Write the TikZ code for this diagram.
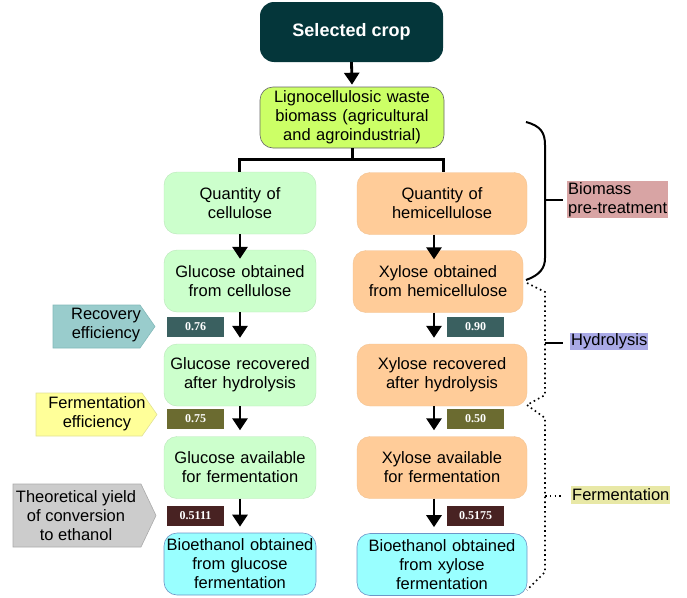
\documentclass[tikz,border=0pt]{standalone}
\usepackage{fontspec}
\setmainfont{Liberation Sans}
\newfontfamily\valfont{Liberation Serif}
\usetikzlibrary{arrows.meta}
\definecolor{cropc}{RGB}{4,54,58}
\definecolor{limec}{RGB}{204,255,102}
\definecolor{greenc}{RGB}{204,255,204}
\definecolor{orangec}{RGB}{255,204,153}
\definecolor{cyanc}{RGB}{153,255,255}
\definecolor{cyanb}{RGB}{110,150,200}
\definecolor{valA}{RGB}{58,96,96}
\definecolor{valB}{RGB}{107,107,48}
\definecolor{valC}{RGB}{72,34,34}
\definecolor{recc}{RGB}{153,204,204}
\definecolor{recb}{RGB}{130,185,185}
\definecolor{ferc}{RGB}{255,255,153}
\definecolor{ferb}{RGB}{225,225,150}
\definecolor{theoc}{RGB}{204,204,204}
\definecolor{theob}{RGB}{170,170,170}
\definecolor{pinkc}{RGB}{216,164,164}
\definecolor{lavc}{RGB}{169,169,230}
\definecolor{khakic}{RGB}{232,232,166}
\begin{document}
\begin{tikzpicture}[x=1pt,y=-1pt,
  txt/.style={font=\fontsize{16.5}{19}\selectfont, align=center, inner sep=0pt},
  box/.style={txt, rounded corners=13pt, minimum height=62pt, text width=150pt},
  gbox/.style={box, fill=greenc, draw=greenc!90!black, line width=0.4pt, minimum width=152pt},
  obox/.style={box, fill=orangec, draw=orangec!95!black, line width=0.4pt, minimum width=170pt},
  ebox/.style={box, fill=cyanc, draw=cyanb, line width=0.6pt},
  valbox/.style={minimum width=57pt, minimum height=20pt, inner sep=0pt, text=white,
    font=\valfont\bfseries\fontsize{12}{13}\selectfont},
  arr/.style={line width=2.8pt, -{Triangle[width=15pt,length=12pt]}},
  tree/.style={line width=3pt},
  brace/.style={line width=2pt},
  dots/.style={line width=1.6pt, dash pattern=on 1.6pt off 3.2pt},
  sidelbl/.style={txt, align=left, inner sep=1pt, anchor=west}
]
\useasboundingbox (0,0) rectangle (687,597);

% top
\node[txt, fill=cropc, text=white, rounded corners=14pt, minimum width=183pt, minimum height=60pt,
  font=\bfseries\fontsize{18}{21}\selectfont] (crop) at (351.5,32) {Selected crop};
\node[txt, fill=limec, draw=gray!80!black, line width=0.6pt, rounded corners=13pt,
  minimum width=184pt, minimum height=61pt, text width=182pt] (bio) at (352,117.5)
  {Lignocellulosic waste\\biomass (agricultural\\and agroindustrial)};

% left column
\node[gbox] (q1) at (240,203) {Quantity of\\cellulose};
\node[gbox] (g1) at (240,281) {Glucose obtained\\from cellulose};
\node[gbox] (g2) at (240,375) {Glucose recovered\\after hydrolysis};
\node[gbox] (g3) at (240,467.5) {Glucose available\\for fermentation};
\node[ebox, minimum width=152pt] (e1) at (240,564) {Bioethanol obtained\\from glucose\\fermentation};

% right column
\node[obox] (q2) at (442,203.5) {Quantity of\\hemicellulose};
\node[obox] (x1) at (438,281.5) {Xylose obtained\\from hemicellulose};
\node[obox] (x2) at (442,375) {Xylose recovered\\after hydrolysis};
\node[obox] (x3) at (442,467.5) {Xylose available\\for fermentation};
\node[ebox, minimum width=170pt] (e2) at (442,564.5) {Bioethanol obtained\\from xylose\\fermentation};

% tree
\coordinate (jl) at (239,159);
\coordinate (jr) at (443,159);
\coordinate (colL) at (240,0);
\coordinate (colR) at (434,0);
\draw[arr] (crop.south) -- ([yshift=2pt]bio.north);
\draw[tree] (bio.south) -- (bio.south |- jl);
\draw[tree] (q1.north -| jl) -- (jl) -- (jr) -- (q2.north -| jr);

% column arrows
\draw[arr] (q1.south -| colL) -- ([yshift=-9pt]g1.north -| colL);
\draw[arr] (g1.south -| colL) -- ([yshift=6pt]g2.north -| colL);
\draw[arr] (g2.south -| colL) -- ([yshift=6pt]g3.north -| colL);
\draw[arr] (g3.south -| colL) -- ([yshift=6pt]e1.north -| colL);
\draw[arr] (q2.south -| colR) -- ([yshift=-9pt]x1.north -| colR);
\draw[arr] (x1.south -| colR) -- ([yshift=6pt]x2.north -| colR);
\draw[arr] (x2.south -| colR) -- ([yshift=6pt]x3.north -| colR);
\draw[arr] (x3.south -| colR) -- ([yshift=6pt]e2.north -| colR);

% value boxes
\node[valbox, fill=valA] (v1) at (195.5,327) {0.76};
\node[valbox, fill=valB] (v2) at (195.5,419) {0.75};
\node[valbox, fill=valC] (v3) at (195.5,515.5) {0.5111};
\node[valbox, fill=valA] (v4) at (475.5,327) {0.90};
\node[valbox, fill=valB] (v5) at (475.5,419) {0.50};
\node[valbox, fill=valC] (v6) at (475.5,516) {0.5175};

% left arrow labels
\filldraw[fill=recc, draw=recb, line width=0.6pt] (53,305) -- (140,305) -- (155,326.5) -- (140,348) -- (53,348) -- cycle;
\node[txt] (rec) at (106,325.5) {Recovery\\efficiency};
\filldraw[fill=ferc, draw=ferb, line width=0.6pt] (36,393) -- (142,393) -- (157,414.5) -- (142,436) -- (36,436) -- cycle;
\node[txt] (fer) at (97,413.5) {Fermentation\\efficiency};
\filldraw[fill=theoc, draw=theob, line width=0.6pt] (13,484) -- (141,484) -- (156,515.5) -- (141,547) -- (13,547) -- cycle;
\node[txt] (theo) at (76,515.5) {Theoretical yield\\of conversion\\to ethanol};

% right brackets
\draw[brace] (526,122) .. controls (541,126) and (545,133) .. (545,145) -- (545,258)
  .. controls (545,268) and (540,275) .. (526,280);
\draw[brace] (545,200) -- (563,200);
\node[sidelbl, fill=pinkc, minimum width=101pt, minimum height=37pt] (pre) at (567,199.5) {Biomass\\pre-treatment};

\draw[dots] (527,283) -- (545,292) -- (545,395) -- (527,405);
\draw[line width=1.5pt] (545,343) -- (563,343);
\node[sidelbl, fill=lavc, minimum height=17pt] (hyd) at (570,341.5) {Hydrolysis};

\draw[dots] (527,405) -- (545,418) -- (545,572) -- (527,590);
\draw[dots] (545,496) -- (563,496);
\node[sidelbl, fill=khakic, minimum height=18pt] (fermL) at (571,495) {Fermentation};
\end{tikzpicture}
\end{document}
